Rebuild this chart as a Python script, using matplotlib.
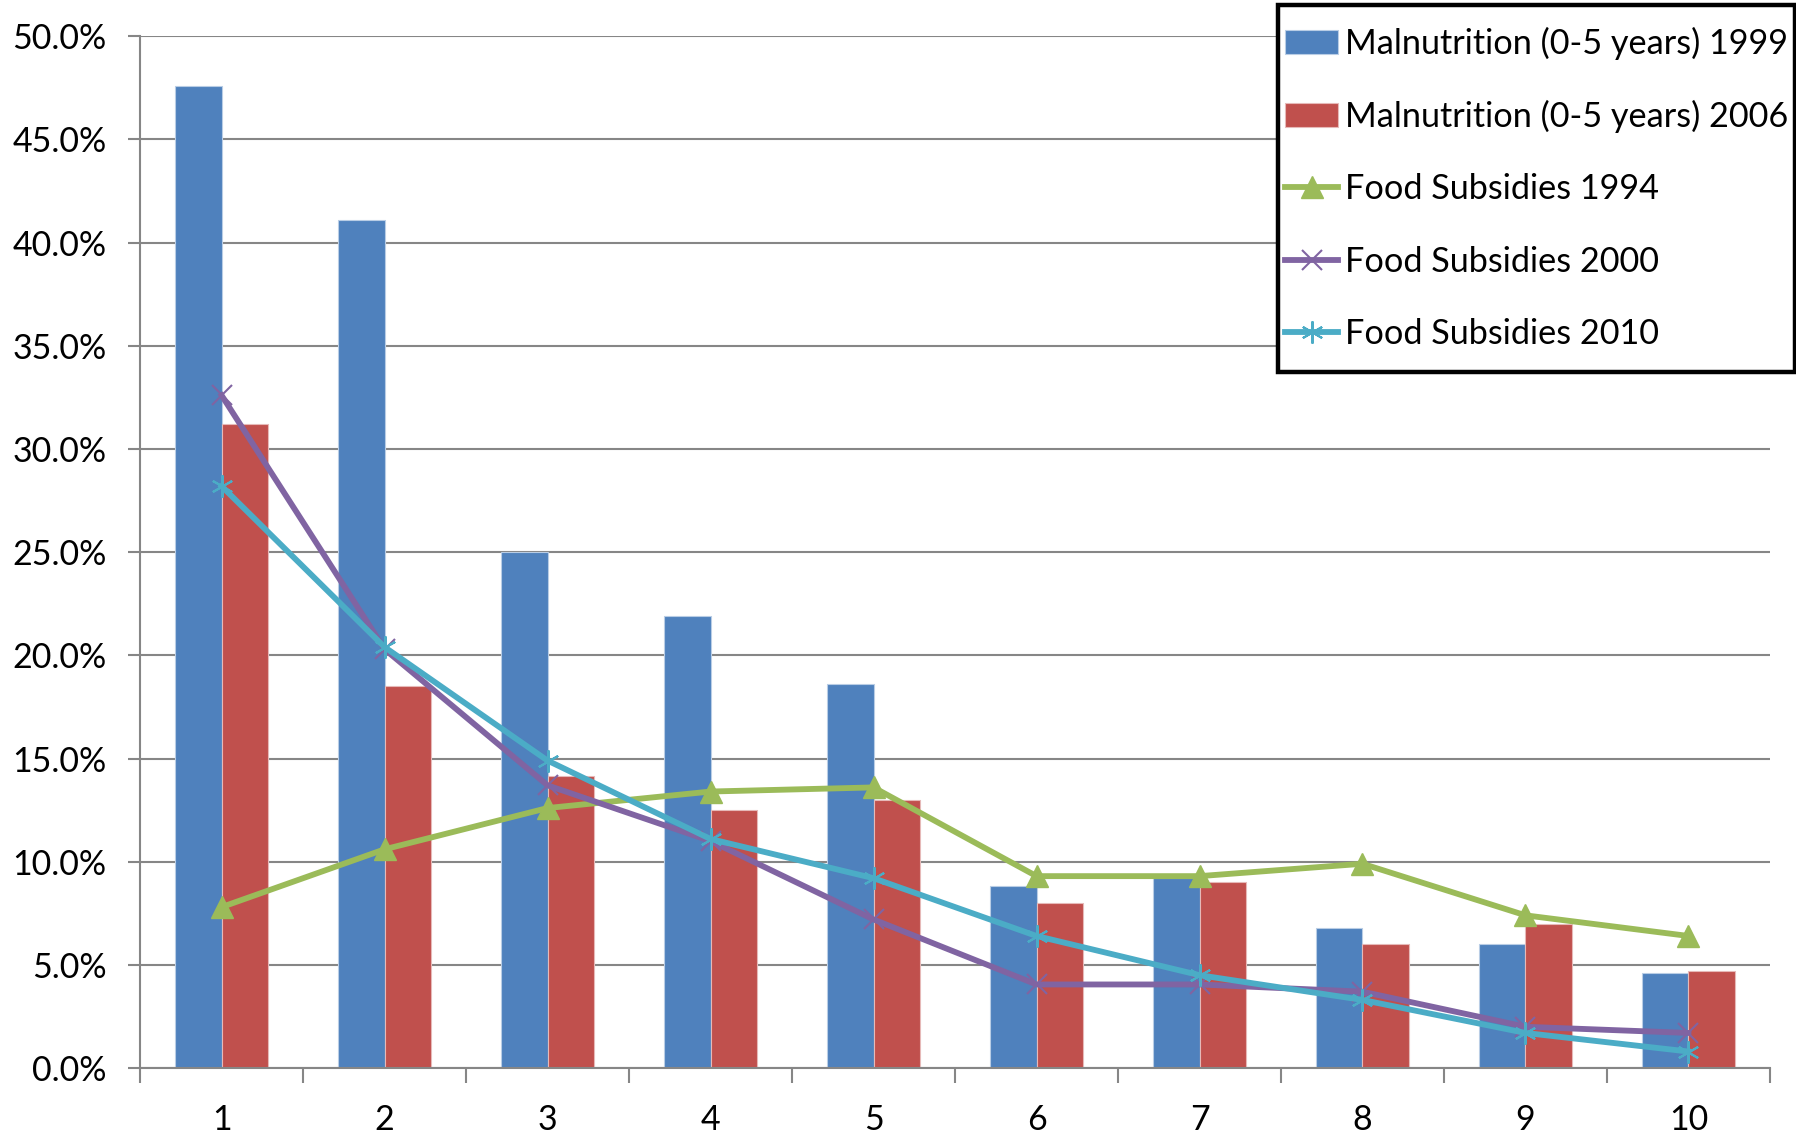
import numpy as np
import matplotlib
matplotlib.use("Agg")
import matplotlib.pyplot as plt
from matplotlib.patches import Rectangle
from matplotlib.ticker import PercentFormatter

plt.rcParams["font.family"] = ["Lato", "DejaVu Sans"]

# values (percent)
categories = ["1", "2", "3", "4", "5", "6", "7", "8", "9", "10"]
malnutrition_1999 = [47.6, 41.1, 25.0, 21.9, 18.6, 8.8, 9.2, 6.8, 6.0, 4.6]
malnutrition_2006 = [31.2, 18.5, 14.15, 12.5, 13.0, 8.0, 9.0, 6.0, 7.0, 4.7]
subsidies_1994 = [7.8, 10.6, 12.6, 13.4, 13.6, 9.3, 9.3, 9.9, 7.4, 6.4]
subsidies_2000 = [32.6, 20.3, 13.7, 11.0, 7.2, 4.05, 4.05, 3.7, 2.0, 1.7]
subsidies_2010 = [28.2, 20.4, 14.9, 11.1, 9.2, 6.4, 4.5, 3.3, 1.7, 0.8]

grid_color = "#868686"

fig = plt.figure(figsize=(17.96, 11.35), dpi=100)
ax = fig.add_axes([0.078, 0.059, 0.9075, 0.909])

x = np.arange(len(categories))
w = 0.285

# bars
b1 = ax.bar(x - w / 2, malnutrition_1999, w, color="#4F81BD", edgecolor="#B9CDE5",
            linewidth=0.8, label="Malnutrition (0-5 years) 1999", zorder=2)
b2 = ax.bar(x + w / 2, malnutrition_2006, w, color="#C0504D", edgecolor="#E6B9B8",
            linewidth=0.8, label="Malnutrition (0-5 years) 2006", zorder=2)

# lines
l1, = ax.plot(x, subsidies_1994, color="#9BBB59", lw=4.2, marker="^", ms=16,
              label="Food Subsidies 1994", zorder=3)
l2, = ax.plot(x, subsidies_2000, color="#8064A2", lw=4.2, marker="x", ms=15, mew=1.5,
              label="Food Subsidies 2000", zorder=3)
l3, = ax.plot(x, subsidies_2010, color="#4BACC6", lw=4.2, marker=(6, 2, 0), ms=16,
              mew=1.5, label="Food Subsidies 2010", zorder=4)

# axes styling
ax.set_xlim(-0.5, len(categories) - 0.5)
ax.set_ylim(0, 50)
ax.set_yticks(np.arange(0, 50.1, 5))
ax.yaxis.set_major_formatter(PercentFormatter(decimals=1))
ax.set_xticks(x)
ax.set_xticklabels(categories)
ax.set_xticks(np.arange(-0.5, len(categories)), minor=True)
ax.tick_params(axis="x", which="major", length=0, labelsize=24.5, pad=26)
ax.tick_params(axis="x", which="minor", length=11, width=1.5, color=grid_color)
ax.tick_params(axis="y", length=9, width=1.5, color=grid_color, labelsize=24.5, pad=15)
ax.grid(axis="y", color=grid_color, lw=1.5, zorder=0)
for side in ["top", "right"]:
    ax.spines[side].set_visible(False)
for side in ["left", "bottom"]:
    ax.spines[side].set_color(grid_color)
    ax.spines[side].set_linewidth(1.5)

# legend without its own frame; a taller box is drawn behind it below
extra = 15  # extra vertical padding in pixels
leg = ax.legend(handles=[b1, b2, l1, l2, l3], loc="upper right",
                bbox_to_anchor=(0.9995, 1 - (5 + extra) / 1135),
                bbox_transform=fig.transFigure, fontsize=24.7, frameon=False,
                handlelength=1.55, handletextpad=0.2, labelspacing=1.17,
                borderpad=0.2, borderaxespad=0)
leg.set_zorder(6)

fig.canvas.draw()
bb = leg.get_window_extent()
box = Rectangle((bb.x0, bb.y0 - extra), bb.width, bb.height + 2 * extra,
                transform=None, facecolor="white", edgecolor="black", lw=3.2,
                zorder=5, clip_on=False)
ax.add_patch(box)

fig.savefig("out.png", dpi=100)
